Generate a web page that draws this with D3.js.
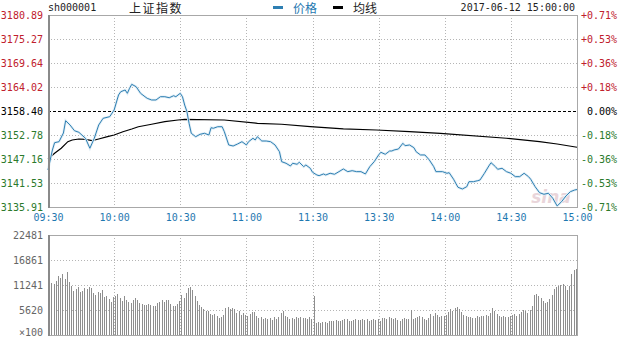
<!DOCTYPE html>
<html>
<head>
<meta charset="utf-8">
<script src="https://cdn.jsdelivr.net/npm/d3@7"></script>
<style>
  body { margin: 0; background: #fff; }
  svg { display: block; }
  text { font-family: "DejaVu Sans Mono", monospace; font-size: 10px; }
</style>
</head>
<body>
<div id="chart"></div>
<script>
// ---- data ----
var prevClose = 3158.40;

var priceTicks = [3180.89, 3175.27, 3169.64, 3164.02, 3158.40, 3152.78, 3147.16, 3141.53, 3135.91];
var pctTicks = ["+0.71%", "+0.53%", "+0.36%", "+0.18%", "0.00%", "-0.18%", "-0.36%", "-0.53%", "-0.71%"];

var timeTicks = [0, 30, 60, 90, 120, 150, 180, 210, 240];
var timeLabels = ["09:30", "10:00", "10:30", "11:00", "11:30", "13:30", "14:00", "14:30", "15:00"];

var volTicks = [22481, 16861, 11241, 5620];

// minute since open (11:30 and 13:00 share minute 120)
var priceMin = [0, 2, 3, 5, 7, 8, 10, 12, 14, 17, 19, 21, 23, 25, 28, 30, 32, 33, 35, 36, 37, 38, 40, 42, 44, 45, 47, 49,
  51, 53, 55, 57, 58, 60, 61, 62, 63, 64, 65, 67, 69, 71, 73, 74, 75, 77, 79, 80, 82, 84, 86, 88, 90, 91, 93, 94, 95,
  97, 99, 101, 103, 105, 106, 108, 110, 111, 113, 114, 116, 117, 119, 120, 122, 123, 125, 126, 128, 130, 132, 134,
  136, 138, 140, 142, 144, 146, 148, 150, 151, 153, 155, 156, 157, 159, 161, 162, 164, 166, 167, 169, 171, 173, 175,
  176, 179, 181, 182, 184, 186, 188, 190, 191, 193, 195, 196, 198, 200, 201, 203, 204, 206, 208, 210, 212, 214, 216,
  218, 219, 221, 223, 225, 227, 229, 231, 233, 235, 237, 239, 240];
var priceVal = [3144.58, 3149.27, 3150.98, 3151.21, 3153.25, 3156.13, 3155.12, 3153.79, 3153.41, 3152.01, 3149.67,
  3152.01, 3155.12, 3156.69, 3157.07, 3158.63, 3162.15, 3162.92, 3163.32, 3162.54, 3163.72, 3164.65, 3164.09, 3162.54,
  3161.75, 3161.37, 3160.98, 3160.98, 3161.75, 3161.75, 3161.51, 3161.98, 3161.75, 3162.54, 3161.75, 3159.80, 3158.33,
  3155.52, 3153.18, 3152.38, 3152.94, 3153.18, 3152.78, 3154.49, 3154.35, 3154.72, 3154.72, 3153.55, 3150.44, 3150.20,
  3150.67, 3151.21, 3150.44, 3151.21, 3152.01, 3151.61, 3152.38, 3151.37, 3151.37, 3151.21, 3150.44, 3148.87, 3146.53,
  3146.15, 3145.52, 3146.15, 3145.92, 3146.39, 3145.36, 3145.76, 3144.98, 3144.05, 3143.41, 3143.25, 3143.65, 3143.41,
  3143.81, 3143.58, 3144.19, 3144.82, 3144.19, 3144.42, 3144.19, 3144.19, 3143.65, 3145.36, 3146.53, 3148.10, 3148.73,
  3148.26, 3149.03, 3149.03, 3149.27, 3149.50, 3150.84, 3150.27, 3150.44, 3149.81, 3148.87, 3148.10, 3148.10, 3146.93,
  3145.36, 3144.19, 3144.19, 3143.81, 3143.95, 3142.41, 3140.53, 3140.13, 3140.67, 3141.84, 3141.84, 3142.08, 3142.24,
  3143.81, 3145.52, 3146.29, 3145.36, 3144.75, 3144.98, 3144.19, 3143.81, 3143.02, 3143.02, 3143.81, 3143.02, 3142.41,
  3140.67, 3139.27, 3138.89, 3139.13, 3137.96, 3136.15, 3137.16, 3138.50, 3139.50, 3139.90, 3140.00];

var avgMin = [0, 3, 6, 9, 11, 14, 17, 20, 23, 27, 30, 34, 38, 41, 47, 53, 59, 62, 80, 95, 106, 119, 134, 149, 164, 178, 208, 223, 231, 240];
var avgVal = [3147.13, 3148.49, 3149.67, 3151.21, 3151.61, 3151.84, 3151.77, 3151.45, 3151.84, 3152.38, 3152.78,
  3153.55, 3154.19, 3154.72, 3155.29, 3155.89, 3156.29, 3156.46, 3156.29, 3155.52, 3155.29, 3154.72, 3154.19,
  3153.95, 3153.55, 3153.18, 3152.01, 3151.21, 3150.67, 3149.90];

// volume per minute, in units of 100 lots
var volume = [
  14010, 11760, 11390, 12140, 13260, 12740, 13640, 12510, 14240, 11990,
  11090, 9890, 10340, 10870, 9740, 9970, 10490, 10270, 10800, 10500,
  9520, 8990, 9750, 9460, 10010, 8620, 8850, 8090, 7490, 8480,
  8770, 9220, 8280, 7700, 8770, 7940, 7490, 7270, 7940, 8240,
  7870, 7270, 6900, 6830, 6680, 6900, 6830, 6520, 6600, 7270,
  7490, 7870, 7490, 7870, 7800, 7040, 6520, 6600, 6900, 7720,
  8920, 8250, 9490, 10570, 10870, 10200, 8770, 7580, 6750, 6300,
  5770, 5470, 5320, 4800, 4420, 4650, 4270, 3900, 3970, 4570,
  6070, 6370, 5920, 6150, 5770, 4950, 5320, 4500, 5020, 4420,
  4270, 4650, 5170, 5100, 4200, 3820, 3970, 3520, 3900, 3670,
  3750, 3450, 3970, 3670, 4050, 4870, 5320, 4350, 3970, 3670,
  3900, 3600, 4050, 3820, 4120, 3750, 3900, 3600, 3970, 3670,
  8770, 2620, 2920, 2770, 2850, 3000, 2700, 3150, 3220, 3150,
  3300, 3070, 3220, 3450, 3670, 3520, 3220, 3070, 3450, 3670,
  3300, 3450, 3520, 3370, 3600, 3150, 3450, 3600, 3370, 3600,
  3070, 3750, 3820, 3600, 3970, 3820, 3670, 3820, 3450, 3220,
  3600, 3820, 3520, 3670, 5620, 3670, 3900, 4050, 4200, 4050,
  3670, 3450, 3820, 4650, 4350, 4870, 4500, 4120, 4350, 4200,
  4570, 5100, 5770, 5470, 6070, 6300, 5770, 5170, 4500, 4200,
  3970, 4120, 3820, 3900, 4200, 4050, 4350, 4200, 4420, 4350,
  4950, 6000, 5320, 4650, 4200, 3970, 4270, 4120, 3970, 4270,
  4420, 4650, 4350, 4800, 5170, 5620, 5320, 4950, 5620, 6520,
  8990, 9220, 8770, 8250, 7720, 7270, 7420, 8030, 9000, 10270,
  10720, 11090, 11240, 11390, 11020, 10200, 11090, 13710, 14610, 14840
];

// ---- layout ----
var svgWidth = 620;
var svgHeight = 338;
var left = 48, right = 577;
var priceTop = 15, priceBottom = 207;
var volTop = 235, volBottom = 335;

var red = "#c0202c", green = "#2b7a2b", blue = "#1f78b0", lineBlue = "#2e7fb2";

var svg = d3.select("#chart").append("svg")
  .attr("width", svgWidth)
  .attr("height", svgHeight);

var x = d3.scaleLinear().domain([0, 240]).range([left, right]);
var yPrice = d3.scaleLinear().domain([priceTicks[8], priceTicks[0]]).range([priceBottom, priceTop]);
var yVol = d3.scaleLinear().domain([0, volTicks[0]]).range([volBottom, volTop]);

function labelColor(v) {
  if (Math.abs(v - prevClose) < 0.005) return "#000";
  return v > prevClose ? red : green;
}

// ---- grids ----
var grid = svg.append("g").attr("stroke", "#b5b5b5").attr("stroke-dasharray", "1,2").attr("shape-rendering", "crispEdges");

grid.selectAll(".hp").data(priceTicks.slice(1, -1).filter(d => d !== prevClose)).enter()
  .append("line")
  .attr("x1", left).attr("x2", right)
  .attr("y1", d => Math.round(yPrice(d)) + 0.5).attr("y2", d => Math.round(yPrice(d)) + 0.5);

grid.selectAll(".hv").data(volTicks.slice(1)).enter()
  .append("line")
  .attr("x1", left).attr("x2", right)
  .attr("y1", d => Math.round(yVol(d)) + 0.5).attr("y2", d => Math.round(yVol(d)) + 0.5);

grid.selectAll(".vp").data(timeTicks.slice(1, -1)).enter()
  .append("line")
  .attr("x1", d => Math.round(x(d)) + 0.5).attr("x2", d => Math.round(x(d)) + 0.5)
  .attr("y1", priceTop).attr("y2", priceBottom);

grid.selectAll(".vv").data(timeTicks.slice(1, -1)).enter()
  .append("line")
  .attr("x1", d => Math.round(x(d)) + 0.5).attr("x2", d => Math.round(x(d)) + 0.5)
  .attr("y1", volTop).attr("y2", volBottom);

// previous close line
svg.append("line")
  .attr("x1", left).attr("x2", right)
  .attr("y1", Math.round(yPrice(prevClose)) + 0.5).attr("y2", Math.round(yPrice(prevClose)) + 0.5)
  .attr("stroke", "#000").attr("stroke-dasharray", "3,2").attr("shape-rendering", "crispEdges");

// ---- volume bars ----
svg.append("g").selectAll("line").data(volume).enter()
  .append("line")
  .attr("x1", (d, i) => Math.round(x(i + 0.5)) + 0.5)
  .attr("x2", (d, i) => Math.round(x(i + 0.5)) + 0.5)
  .attr("y1", yVol(0))
  .attr("y2", d => yVol(d))
  .attr("stroke", "#8e8e8e")
  .attr("stroke-width", 1)
  .attr("shape-rendering", "crispEdges");

// watermark
svg.append("text")
  .attr("x", 551).attr("y", 203)
  .attr("text-anchor", "middle")
  .style("font-family", "DejaVu Sans")
  .style("font-style", "italic")
  .style("font-weight", "bold")
  .style("font-size", "17px")
  .attr("fill", "#d8b4bc")
  .attr("opacity", 0.55)
  .text("sina");

// ---- lines ----
var priceData = priceMin.map((m, i) => [m, priceVal[i]]);
var avgData = avgMin.map((m, i) => [m, avgVal[i]]);

var line = d3.line().x(d => x(d[0])).y(d => yPrice(d[1]));

svg.append("path").datum(avgData)
  .attr("d", line)
  .attr("fill", "none")
  .attr("stroke", "#000")
  .attr("stroke-width", 1.2);

svg.append("path").datum(priceData)
  .attr("d", line)
  .attr("fill", "none")
  .attr("stroke", "#e1eef6")
  .attr("stroke-width", 2.6);

svg.append("path").datum(priceData)
  .attr("d", line)
  .attr("fill", "none")
  .attr("stroke", lineBlue)
  .attr("stroke-width", 1);

// ---- frames ----
[[priceTop, priceBottom], [volTop, volBottom]].forEach(function(r) {
  svg.append("rect")
    .attr("x", left + 0.5).attr("y", r[0] + 0.5)
    .attr("width", right - left).attr("height", r[1] - r[0])
    .attr("fill", "none").attr("stroke", "#a8a8a8")
    .attr("shape-rendering", "crispEdges");
  svg.append("line")
    .attr("x1", left + 0.5).attr("x2", left + 0.5)
    .attr("y1", r[0]).attr("y2", r[1] + 1)
    .attr("stroke", "#8a8a8a").attr("stroke-width", 2)
    .attr("shape-rendering", "crispEdges");
});

// ---- axes ----
var leftAxis = svg.append("g")
  .attr("transform", `translate(${left}, 0)`)
  .call(d3.axisLeft(yPrice).tickValues(priceTicks).tickSize(0).tickPadding(5).tickFormat(d => d.toFixed(2)));
leftAxis.select(".domain").remove();
leftAxis.selectAll("text").attr("fill", d => labelColor(d)).style("font-size", "10px").style("font-family", "DejaVu Sans Mono");

var rightAxis = svg.append("g")
  .attr("transform", `translate(${right}, 0)`)
  .call(d3.axisRight(yPrice).tickValues(priceTicks).tickSize(0).tickFormat((d, i) => pctTicks[i]));
rightAxis.select(".domain").remove();
rightAxis.selectAll("text")
  .attr("x", 40)
  .attr("text-anchor", "end")
  .attr("fill", d => labelColor(d)).style("font-size", "10px").style("font-family", "DejaVu Sans Mono");

var bottomAxis = svg.append("g")
  .attr("transform", `translate(0, ${priceBottom})`)
  .call(d3.axisBottom(x).tickValues(timeTicks).tickSize(0).tickPadding(7).tickFormat((d, i) => timeLabels[i]));
bottomAxis.select(".domain").remove();
bottomAxis.selectAll("text").attr("fill", blue).style("font-size", "10px").style("font-family", "DejaVu Sans Mono");

var volAxis = svg.append("g")
  .attr("transform", `translate(${left}, 0)`)
  .call(d3.axisLeft(yVol).tickValues(volTicks.concat([0])).tickSize(0).tickPadding(5)
    .tickFormat(d => d === 0 ? "\u00d7100" : d));
volAxis.select(".domain").remove();
volAxis.selectAll("text").attr("fill", "#666").style("font-size", "10px").style("font-family", "DejaVu Sans Mono");
// keep the unit label inside the window
volAxis.selectAll(".tick").filter(d => d === 0).select("text").attr("y", -3);

// ---- header ----
svg.append("text").attr("x", left).attr("y", 11).attr("fill", "#222").text("sh000001");
svg.append("text").attr("x", 129).attr("y", 13)
  .style("font-family", "Noto Sans CJK SC").style("font-size", "12px").style("letter-spacing", "1.5px")
  .attr("fill", "#222").text("上证指数");

svg.append("rect").attr("x", 273).attr("y", 6).attr("width", 10).attr("height", 3).attr("fill", lineBlue);
svg.append("text").attr("x", 293).attr("y", 13)
  .style("font-family", "Noto Sans CJK SC").style("font-size", "12px").attr("fill", blue).text("价格");
svg.append("rect").attr("x", 333).attr("y", 6).attr("width", 10).attr("height", 3).attr("fill", "#000");
svg.append("text").attr("x", 353).attr("y", 13)
  .style("font-family", "Noto Sans CJK SC").style("font-size", "12px").attr("fill", "#222").text("均线");

svg.append("text").attr("x", 575).attr("y", 11).attr("text-anchor", "end").attr("fill", "#222").text("2017-06-12 15:00:00");
</script>
</body>
</html>
